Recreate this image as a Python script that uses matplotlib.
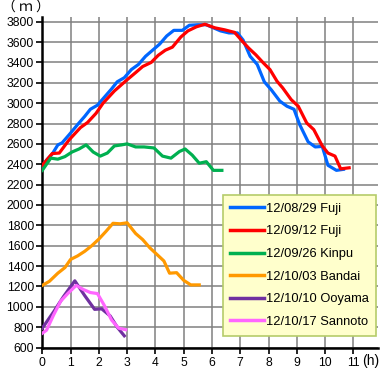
import matplotlib
matplotlib.use('Agg')
import matplotlib.pyplot as plt
import numpy as np

# ---- data (hours, metres) ----
fuji0829_t = [0, 0.15, 0.35, 0.55, 0.7, 0.95, 1.25, 1.5, 1.7, 1.95, 2.2, 2.45, 2.65, 2.9,
              3.15, 3.4, 3.65, 3.9, 4.15, 4.4, 4.65, 4.95, 5.2, 5.5, 5.8, 6.05, 6.3, 6.6,
              6.9, 7.1, 7.35, 7.6, 7.85, 8.1, 8.4, 8.65, 8.9, 9.1, 9.4, 9.65, 9.9, 10.1,
              10.4, 10.65]
fuji0829_h = [2380, 2440, 2500, 2590, 2610, 2690, 2790, 2870, 2940, 2980, 3060, 3140, 3210, 3250,
              3330, 3380, 3460, 3520, 3580, 3660, 3715, 3715, 3765, 3770, 3770, 3740, 3710, 3690,
              3690, 3620, 3460, 3380, 3210, 3130, 3020, 2970, 2940, 2790, 2620, 2570, 2575, 2390,
              2340, 2350]

fuji0912_t = [0, 0.35, 0.6, 0.95, 1.35, 1.6, 1.9, 2.15, 2.55, 3.0, 3.3, 3.55, 3.85, 4.1, 4.35,
              4.6, 4.9, 5.15, 5.45, 5.75, 6.1, 6.45, 6.8, 7.1, 7.3, 7.55, 7.8, 8.05, 8.3, 8.5,
              8.8, 9.05, 9.35, 9.6, 9.9, 10.1, 10.35, 10.55, 10.85]
fuji0912_h = [2390, 2505, 2510, 2640, 2760, 2810, 2900, 3000, 3120, 3230, 3300, 3360, 3400, 3470, 3520,
              3550, 3650, 3710, 3750, 3775, 3740, 3720, 3695, 3600, 3540, 3475, 3400, 3330, 3215, 3150,
              3035, 2970, 2805, 2740, 2580, 2510, 2480, 2355, 2365]

kinpu_t = [0, 0.3, 0.55, 0.8, 1.05, 1.3, 1.55, 1.8, 2.05, 2.3, 2.55, 2.8, 3.0, 3.3, 3.6,
           3.95, 4.25, 4.55, 4.85, 5.05, 5.3, 5.55, 5.8, 6.05, 6.35]
kinpu_h = [2340, 2460, 2450, 2475, 2520, 2550, 2590, 2520, 2480, 2510, 2580, 2590, 2600, 2570, 2570,
           2560, 2480, 2460, 2525, 2550, 2490, 2410, 2425, 2340, 2340]

bandai_t = [0, 0.25, 0.55, 0.8, 1.0, 1.25, 1.5, 1.75, 2.0, 2.25, 2.5, 2.75, 3.0, 3.3, 3.55,
            3.8, 4.05, 4.3, 4.5, 4.75, 5.0, 5.25, 5.55]
bandai_h = [1210, 1250, 1330, 1385, 1465, 1500, 1545, 1600, 1665, 1740, 1820, 1815, 1825, 1720, 1660,
            1580, 1515, 1450, 1330, 1335, 1260, 1215, 1215]

ooyama_t = [0, 0.4, 0.75, 1.15, 1.5, 1.85, 2.1, 2.4, 2.65, 2.9]
ooyama_h = [790, 950, 1100, 1255, 1110, 975, 980, 910, 800, 715]

sannoto_t = [0, 0.15, 0.4, 0.65, 0.9, 1.2, 1.45, 1.7, 1.95, 2.2, 2.45, 2.7, 2.95]
sannoto_h = [740, 770, 920, 1055, 1130, 1210, 1170, 1140, 1130, 1010, 870, 790, 775]

labels = ['12/08/29 Fuji', '12/09/12 Fuji', '12/09/26 Kinpu',
          '12/10/03 Bandai', '12/10/10 Ooyama', '12/10/17 Sannoto']
colors = ['#0066FF', '#FF0000', '#00B050', '#FF9900', '#7030A0', '#FF66FF']
series = [(fuji0829_t, fuji0829_h), (fuji0912_t, fuji0912_h), (kinpu_t, kinpu_h),
          (bandai_t, bandai_h), (ooyama_t, ooyama_h), (sannoto_t, sannoto_h)]

plt.rcParams['font.family'] = ['Liberation Sans', 'DejaVu Sans']

fig = plt.figure(figsize=(3.82, 3.71), dpi=100)
ax = fig.add_axes([0.1107, 0.0633, 0.8788, 0.8922])

for (t, h), c, lab in zip(series, colors, labels):
    ax.plot(t, h, color=c, lw=2.3, label=lab, solid_joinstyle='round', zorder=3)

ax.set_xlim(0, 11.87)
ax.set_ylim(600, 3851)
ax.set_xticks(np.arange(0, 12, 1))
ax.set_yticks(np.arange(600, 3801, 200))
ax.grid(True, color='#808080', lw=1.1)
ax.set_axisbelow(True)

for side in ['top', 'right']:
    ax.spines[side].set_visible(False)
for side in ['left', 'bottom']:
    ax.spines[side].set_linewidth(1.8)
    ax.spines[side].set_color('black')
ax.tick_params(axis='both', direction='out', length=4, width=1.2, labelsize=8.7,
               colors='black', pad=2)
ax.tick_params(axis='x', pad=3)

fig.text(0.005, 0.998, '（ ｍ ）', fontsize=10,
         family=['Noto Sans CJK JP', 'DejaVu Sans'], ha='left', va='top')
fig.text(0.947, 0.008, '(h)', fontsize=10, ha='left', va='bottom')

leg = ax.legend(loc='lower right', bbox_to_anchor=(0.9955, 0.0355), fontsize=9.3,
                frameon=True, fancybox=False, handlelength=2.6, handletextpad=0.15,
                labelspacing=0.82, borderpad=0.6, borderaxespad=0)
leg.get_frame().set_facecolor('#FFFFCC')
leg.get_frame().set_edgecolor('#B5CC6A')
leg.get_frame().set_linewidth(1.2)
leg.get_frame().set_alpha(1)
for line in leg.get_lines():
    line.set_linewidth(2.5)

fig.savefig('out.png', dpi=100)
